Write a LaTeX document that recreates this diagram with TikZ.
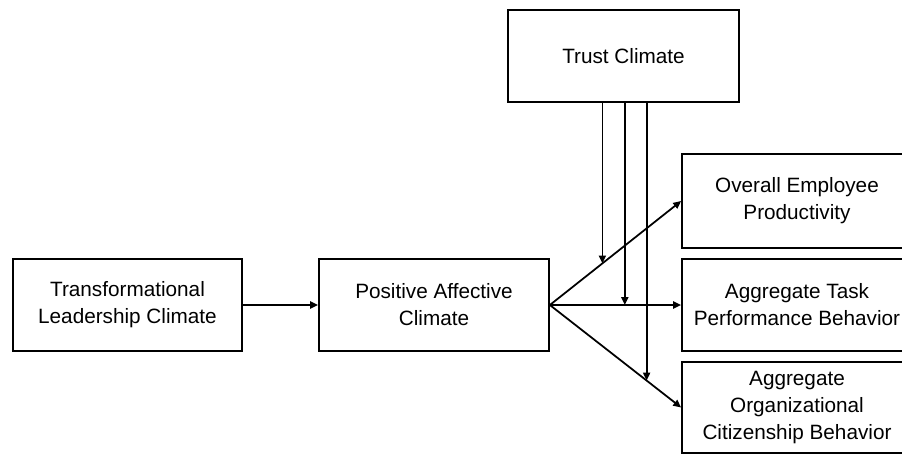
\documentclass[tikz,border=0pt]{standalone}
\usepackage{fontspec}
\setmainfont{Liberation Sans}
\usetikzlibrary{arrows.meta}
\begin{document}
\begin{tikzpicture}[x=0.02cm, y=-0.02cm, line width=1pt, >={Triangle[length=4.5pt,width=4pt]},
    every node/.style={draw, line width=1pt, inner sep=0pt, align=center,
    font=\fontsize{11.8}{15.3}\selectfont}]
  \useasboundingbox (0,0) rectangle (902,454);
  \node[minimum width=4.58cm, minimum height=1.84cm] (tlc) at (127.5,305) {Transformational\\Leadership Climate};
  \node[minimum width=4.6cm, minimum height=1.84cm] (pac) at (434,305) {Positive Affective\\Climate};
  \node[minimum width=4.62cm, minimum height=1.84cm] (tc) at (623.5,56) {Trust Climate};
  \node[minimum width=4.6cm, minimum height=1.88cm] (oep) at (797,201) {Overall Employee\\Productivity};
  \node[minimum width=4.6cm, minimum height=1.84cm] (atp) at (797,305) {Aggregate Task\\Performance Behavior};
  \node[minimum width=4.6cm, minimum height=1.82cm] (aocb) at (797,407.5) {Aggregate\\Organizational\\Citizenship Behavior};
  \draw[->] (tlc) -- (pac);
  \draw[->] (pac.east) -- coordinate[pos=0.4] (m1) (oep.west);
  \draw[->] (pac.east) -- coordinate[pos=0.571] (m2) (atp.west);
  \draw[->] (pac.east) -- coordinate[pos=0.737] (m3) (aocb.west);
  \draw[->] (tc.south -| m1) -- (m1);
  \draw[->] (tc.south -| m2) -- (m2);
  \draw[->] (tc.south -| m3) -- (m3);
\end{tikzpicture}
\end{document}
